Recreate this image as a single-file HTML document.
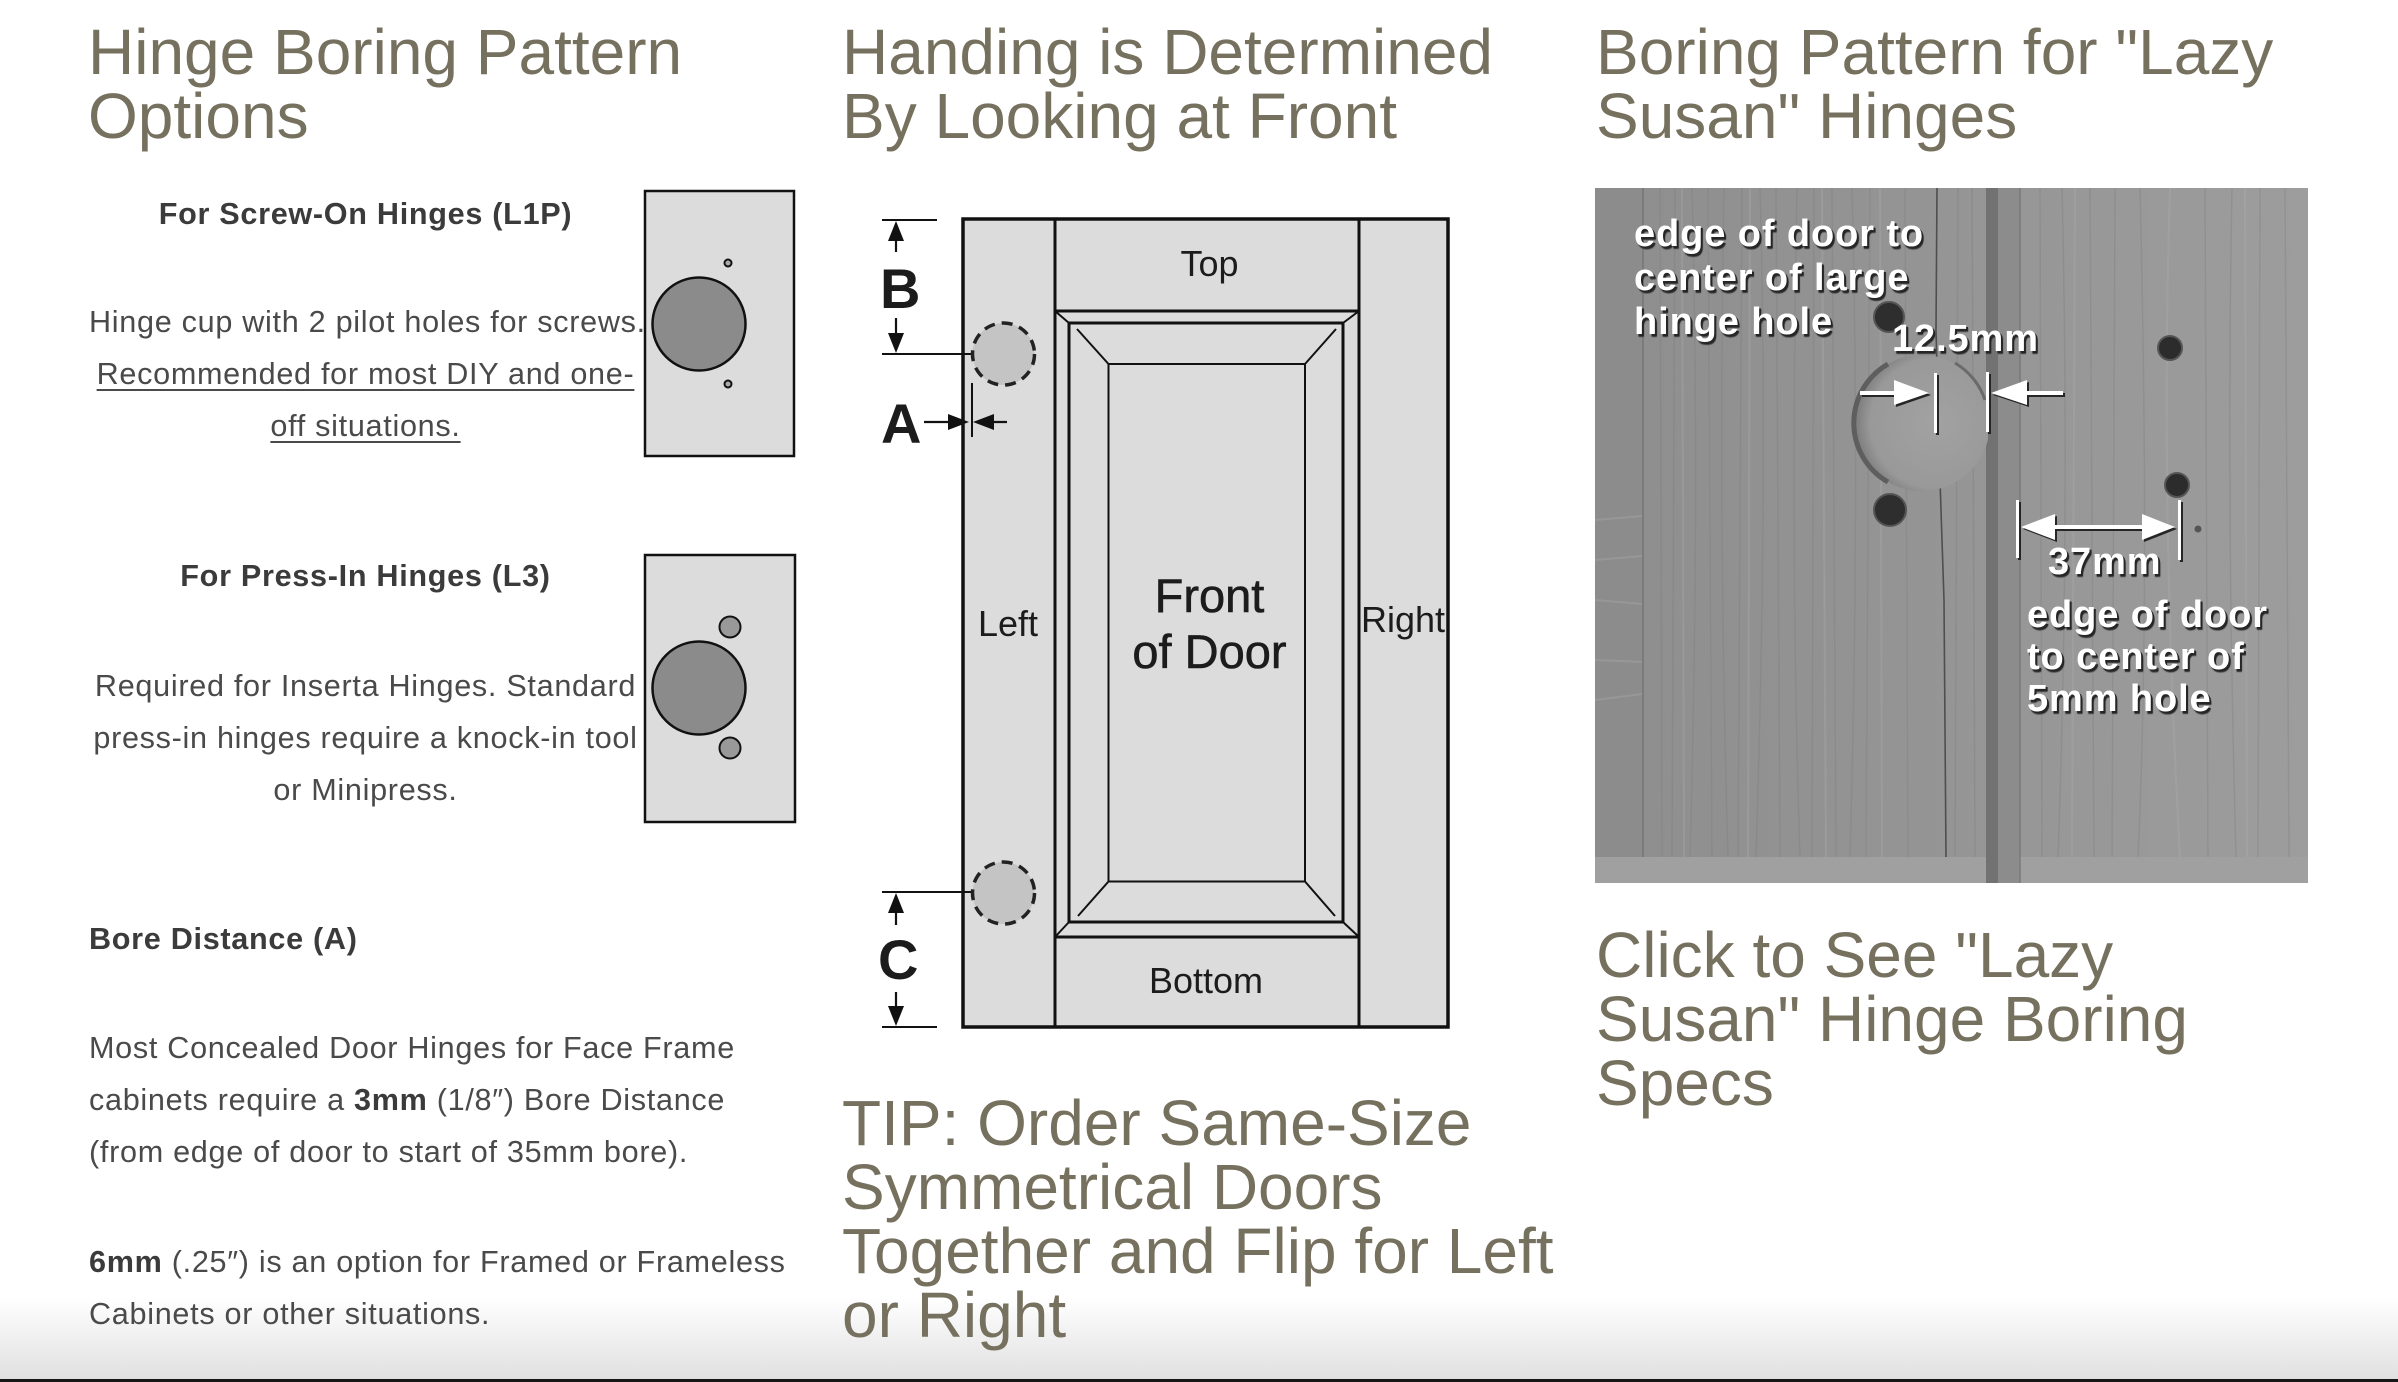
<!DOCTYPE html>
<html><head><meta charset="utf-8">
<style>
html,body{margin:0;padding:0;background:#fff;}
body{width:2398px;height:1382px;position:relative;overflow:hidden;font-family:"Liberation Sans",Arial,sans-serif;}
svg.bg{position:absolute;left:0;top:0;}
.h{position:absolute;font-size:64px;line-height:64px;color:#76715f;white-space:nowrap;}
.t{position:absolute;font-size:30.6px;line-height:52px;color:#4a4a4a;white-space:nowrap;letter-spacing:0.7px;}
.c{text-align:center;left:89px;width:553px;}
.b,.t b{font-weight:bold;color:#3b3b3b;}
.u{text-decoration:underline;text-decoration-thickness:2px;text-underline-offset:5px;}
.w{position:absolute;font-weight:bold;font-size:38px;line-height:44px;color:#fff;white-space:nowrap;letter-spacing:0.9px;text-shadow:2px 2px 0 #262626,2px 3px 1px #333;}
.fade{position:absolute;left:0;top:1298px;width:2398px;height:81px;background:linear-gradient(rgba(226,226,226,0),#e0e0e0);}
.bar{position:absolute;left:0;top:1379px;width:2398px;height:3px;background:#161616;}
</style></head>
<body>
<div class="fade"></div>
<div class="bar"></div>
<svg class="bg" width="2398" height="1382" viewBox="0 0 2398 1382" xmlns="http://www.w3.org/2000/svg">
<defs>
<clipPath id="pc"><rect x="1595" y="188" width="713" height="695"/></clipPath>
<clipPath id="hc"><rect x="1800" y="300" width="188" height="250"/></clipPath>
<linearGradient id="pg" x1="0" x2="1" y1="0" y2="0">
<stop offset="0" stop-color="#8e8e8e"/><stop offset="0.5" stop-color="#959595"/><stop offset="1" stop-color="#9d9d9d"/>
</linearGradient>
<radialGradient id="hg" cx="0.6" cy="0.5" r="0.6">
<stop offset="0" stop-color="#a2a2a2"/><stop offset="0.8" stop-color="#999"/><stop offset="1" stop-color="#7a7a7a"/>
</radialGradient>
</defs>

<!-- hinge box 1 -->
<rect x="645" y="191" width="149" height="265" fill="#dcdcdc" stroke="#111" stroke-width="2.5"/>
<circle cx="699" cy="324" r="46.5" fill="#8b8b8b" stroke="#111" stroke-width="2.5"/>
<circle cx="728" cy="263" r="3.5" fill="#aaa" stroke="#111" stroke-width="2"/>
<circle cx="728" cy="384" r="3.5" fill="#aaa" stroke="#111" stroke-width="2"/>
<!-- hinge box 2 -->
<rect x="645" y="555" width="150" height="267" fill="#dcdcdc" stroke="#111" stroke-width="2.5"/>
<circle cx="699" cy="688" r="46.5" fill="#8b8b8b" stroke="#111" stroke-width="2.5"/>
<circle cx="730" cy="627" r="10.5" fill="#999" stroke="#111" stroke-width="2"/>
<circle cx="730" cy="748" r="10.5" fill="#999" stroke="#111" stroke-width="2"/>

<!-- door diagram -->
<g stroke="#111" fill="none">
<rect x="963" y="219" width="485" height="808" fill="#dcdcdc" stroke-width="3.5"/>
<line x1="1055" y1="219" x2="1055" y2="1027" stroke-width="3"/>
<line x1="1359" y1="219" x2="1359" y2="1027" stroke-width="3"/>
<line x1="1055" y1="311" x2="1359" y2="311" stroke-width="3"/>
<line x1="1055" y1="937" x2="1359" y2="937" stroke-width="3"/>
<rect x="1069" y="323" width="274" height="599" stroke-width="3"/>
<path d="M1055 311 L1069 323 M1359 311 L1343 323 M1055 937 L1069 922 M1359 937 L1343 922" stroke-width="2"/>
<rect x="1108.5" y="364" width="196.5" height="517.5" stroke-width="2"/>
<path d="M1108.5 364 L1077 329 M1305 364 L1336 329 M1108.5 881.5 L1078 916 M1305 881.5 L1335 916" stroke-width="2"/>
<!-- dimension lines -->
<line x1="882" y1="220" x2="937" y2="220" stroke-width="2"/>
<line x1="896" y1="225" x2="896" y2="252" stroke-width="2.2"/>
<line x1="896" y1="318" x2="896" y2="345" stroke-width="2.2"/>
<line x1="882" y1="354" x2="1004" y2="354" stroke-width="2"/>
<line x1="972" y1="383" x2="972" y2="437" stroke-width="2"/>
<line x1="924" y1="422" x2="950" y2="422" stroke-width="2.2"/>
<line x1="990" y1="422" x2="1007" y2="422" stroke-width="2.2"/>
<line x1="882" y1="892" x2="1004" y2="892" stroke-width="2"/>
<line x1="896" y1="900" x2="896" y2="925" stroke-width="2.2"/>
<line x1="896" y1="992" x2="896" y2="1018" stroke-width="2.2"/>
<line x1="882" y1="1027" x2="937" y2="1027" stroke-width="2"/>
</g>
<g fill="#111">
<polygon points="896,221 888,241 904,241"/>
<polygon points="896,353 888,333 904,333"/>
<polygon points="969,422 948,414 948,430"/>
<polygon points="973,422 994,414 994,430"/>
<polygon points="896,893 888,913 904,913"/>
<polygon points="896,1026 888,1006 904,1006"/>
</g>
<circle cx="1003.5" cy="354" r="31" fill="#c4c4c4" stroke="#222" stroke-width="3.5" stroke-dasharray="11 7"/>
<circle cx="1003.5" cy="893" r="31" fill="#c4c4c4" stroke="#222" stroke-width="3.5" stroke-dasharray="11 7"/>
<g font-family="Liberation Sans, Arial, sans-serif" fill="#1c1c1c">
<text x="1209.5" y="276" font-size="36" text-anchor="middle">Top</text>
<text x="978" y="636" font-size="36">Left</text>
<text x="1361" y="632" font-size="36">Right</text>
<text x="1209.5" y="612" font-size="47" text-anchor="middle" stroke="#1c1c1c" stroke-width="0.6">Front</text>
<text x="1209.5" y="668" font-size="47" text-anchor="middle" stroke="#1c1c1c" stroke-width="0.6">of Door</text>
<text x="1206" y="993" font-size="36" text-anchor="middle">Bottom</text>
<text x="880" y="308" font-size="56" font-weight="bold">B</text>
<text x="881" y="443" font-size="56" font-weight="bold">A</text>
<text x="878" y="979" font-size="56" font-weight="bold">C</text>
</g>

<!-- photo -->
<g clip-path="url(#pc)">
<rect x="1595" y="188" width="713" height="695" fill="url(#pg)"/>
<rect x="1595" y="188" width="48" height="695" fill="#8c8c8c"/>
<g stroke="#a2a2a2" stroke-width="2" opacity="0.5">
<line x1="1595" y1="520" x2="1643" y2="516"/><line x1="1595" y1="560" x2="1643" y2="556"/><line x1="1595" y1="600" x2="1643" y2="604"/><line x1="1595" y1="660" x2="1643" y2="662"/><line x1="1595" y1="700" x2="1643" y2="694"/>
</g>
<line x1="1643" y1="188" x2="1643" y2="857" stroke="#7b7b7b" stroke-width="2"/>
<g stroke="#7a7a7a" stroke-width="1.5" opacity="0.3" fill="none">
<path d="M1660 188 L1662 857"/><path d="M1675 188 L1672 857"/><path d="M1692 188 Q1700 500 1690 857"/>
<path d="M1708 188 L1712 857"/><path d="M1724 188 Q1718 520 1728 857"/><path d="M1742 188 L1738 857"/>
<path d="M1760 188 Q1768 480 1756 857"/><path d="M1776 188 L1780 857"/><path d="M1797 188 Q1790 560 1800 857"/>
<path d="M1814 188 L1812 857"/><path d="M1832 188 L1836 857"/><path d="M1852 188 Q1860 500 1850 857"/>
<path d="M1870 188 L1866 857"/><path d="M1905 188 L1908 857"/><path d="M1958 188 L1955 857"/><path d="M1972 188 L1975 857"/>
<path d="M2040 188 L2042 857"/><path d="M2062 188 Q2070 520 2058 857"/><path d="M2090 188 L2094 857"/>
<path d="M2115 188 L2112 857"/><path d="M2140 188 Q2150 600 2138 857"/><path d="M2205 188 L2208 857"/>
<path d="M2232 188 Q2226 500 2236 857"/><path d="M2260 188 L2258 857"/><path d="M2285 188 L2289 857"/>
</g>
<g stroke="#b0b0b0" stroke-width="2" opacity="0.3" fill="none">
<path d="M1682 188 L1684 857"/><path d="M1750 188 L1748 857"/><path d="M1822 188 L1826 857"/><path d="M1880 188 L1882 857"/>
<path d="M2075 188 L2072 857"/><path d="M2170 188 Q2160 500 2180 857"/><path d="M2245 188 L2247 857"/>
</g>
<path d="M1937 188 L1936 330 L1940 480 L1944 600 L1946 857" stroke="#4e4e4e" stroke-width="1.6" fill="none"/>
<rect x="1595" y="857" width="713" height="26" fill="#a0a0a0"/>
<rect x="1986" y="188" width="12" height="695" fill="#727272"/>
<rect x="1998" y="188" width="22" height="695" fill="#8c8c8c"/>
<line x1="2020" y1="188" x2="2020" y2="883" stroke="#7a7a7a" stroke-width="1.5"/>
<g clip-path="url(#hc)">
<circle cx="1922" cy="423" r="68" fill="url(#hg)"/>
<path d="M1888 364 A68 68 0 0 0 1888 482" stroke="#5e5e5e" stroke-width="5" fill="none"/>
<path d="M1955 363 A68 68 0 0 1 1985 400" stroke="#6a6a6a" stroke-width="3" fill="none"/>
</g>
<circle cx="1889" cy="317" r="15" fill="#2e2e2e" stroke="#555" stroke-width="2"/>
<circle cx="1890" cy="510" r="16" fill="#2e2e2e" stroke="#555" stroke-width="2"/>
<circle cx="2170" cy="348" r="12" fill="#2c2c2c" stroke="#555" stroke-width="2"/>
<circle cx="2177" cy="485" r="12" fill="#2c2c2c" stroke="#555" stroke-width="2"/>
<circle cx="2198" cy="529" r="3.5" fill="#555"/>
</g>
<!-- photo arrows: shadow then white -->
<g fill="#262626" transform="translate(2,2)">
<rect x="1860" y="391" width="37" height="4"/><polygon points="1894,380 1929,393 1894,405"/>
<rect x="1934" y="373" width="3" height="60"/><rect x="1986" y="372" width="3" height="60"/>
<polygon points="1991,393 2027,380 2027,405"/><rect x="2026" y="391" width="37" height="4"/>
<rect x="2016" y="500" width="3" height="58"/><rect x="2178" y="500" width="3" height="60"/>
<polygon points="2021,527 2055,514 2055,540"/><rect x="2054" y="525" width="90" height="4"/><polygon points="2175,527 2142,514 2142,540"/>
</g>
<g fill="#fff">
<rect x="1860" y="391" width="37" height="4"/><polygon points="1894,380 1929,393 1894,405"/>
<rect x="1934" y="373" width="3" height="60"/><rect x="1986" y="372" width="3" height="60"/>
<polygon points="1991,393 2027,380 2027,405"/><rect x="2026" y="391" width="37" height="4"/>
<rect x="2016" y="500" width="3" height="58"/><rect x="2178" y="500" width="3" height="60"/>
<polygon points="2021,527 2055,514 2055,540"/><rect x="2054" y="525" width="90" height="4"/><polygon points="2175,527 2142,514 2142,540"/>
</g>
</svg>

<!-- column 1 -->
<div class="h" style="left:88px;top:20px">Hinge Boring Pattern<br>Options</div>
<div class="t c b" style="top:188px">For Screw-On Hinges (L1P)</div>
<div class="t c" style="top:296px">Hinge cup with 2 pilot holes for screws.<br><span class="u">Recommended for most DIY and one-</span><br><span class="u">off situations.</span></div>
<div class="t c b" style="top:550px">For Press-In Hinges (L3)</div>
<div class="t c" style="top:660px">Required for Inserta Hinges. Standard<br>press-in hinges require a knock-in tool<br>or Minipress.</div>
<div class="t b" style="left:89px;top:913px">Bore Distance (A)</div>
<div class="t" style="left:89px;top:1022px">Most Concealed Door Hinges for Face Frame<br>cabinets require a <b>3mm</b> (1/8″) Bore Distance<br>(from edge of door to start of 35mm bore).</div>
<div class="t" style="left:89px;top:1236px"><b>6mm</b> (.25″) is an option for Framed or Frameless<br>Cabinets or other situations.</div>

<!-- column 2 -->
<div class="h" style="left:842px;top:20px">Handing is Determined<br>By Looking at Front</div>
<div class="h" style="left:842px;top:1091px">TIP: Order Same-Size<br>Symmetrical Doors<br>Together and Flip for Left<br>or Right</div>

<!-- column 3 -->
<div class="h" style="left:1596px;top:20px">Boring Pattern for "Lazy<br>Susan" Hinges</div>
<div class="w" style="left:1634px;top:212px">edge of door to<br>center of large<br>hinge hole</div>
<div class="w" style="left:1892px;top:317px">12.5mm</div>
<div class="w" style="left:2048px;top:540px">37mm</div>
<div class="w" style="left:2027px;top:594px;line-height:42px">edge of door<br>to center of<br>5mm hole</div>
<div class="h" style="left:1596px;top:923px">Click to See "Lazy<br>Susan" Hinge Boring<br>Specs</div>
</body></html>
